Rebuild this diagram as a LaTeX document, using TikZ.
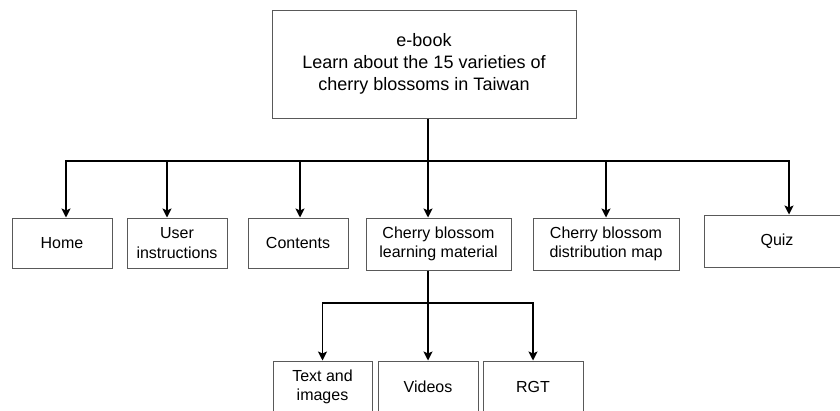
\documentclass[tikz,border=0pt]{standalone}
\usepackage{fontspec}
\setmainfont{Liberation Sans}
\usetikzlibrary{arrows.meta}

\begin{document}
\begin{tikzpicture}[x=1pt,y=-1pt,
	box/.style={draw=black!65, line width=1pt, fill=white, align=center, inner sep=0pt,
		minimum width=100pt, minimum height=50pt, font=\fontsize{16}{19.5}\selectfont},
	link/.style={line width=1.6pt, -{Stealth[length=9pt,width=9pt,inset=2pt]}}]
\useasboundingbox (0,0) rectangle (840,410);
\node[box, minimum width=304pt, minimum height=108pt, font=\fontsize{18}{22}\selectfont] (ebook) at (424,64)
	{e-book\\Learn about the 15 varieties of\\cherry blossoms in Taiwan};
\node[box] (home) at (62,243) {Home};
\node[box] (user) at (177,243) {User\\instructions};
\node[box] (contents) at (298,243) {Contents};
\node[box, minimum width=145pt, minimum height=52pt] (learn) at (438.5,244) {Cherry blossom\\learning material};
\node[box, minimum width=146pt, minimum height=52pt] (map) at (606,244) {Cherry blossom\\distribution map};
\node[box, minimum width=146pt, minimum height=52pt] (quiz) at (777,241) {Quiz};
\node[box, minimum width=99pt, minimum height=52pt] (text) at (322.5,387) {Text and\\images};
\node[box, minimum height=52pt] (videos) at (428,387) {Videos};
\node[box, minimum height=52pt] (rgt) at (533,387) {RGT};
	\coordinate (bus) at (428,161);
	\coordinate (sub) at (428,303);
%first level
\draw[line width=1.6pt] (ebook.south -| bus) -- (bus);
\draw[link] (bus) -| ([xshift=4pt]home.north);
\draw[link] (bus) -| ([xshift=-10pt]user.north);
\draw[link] (bus) -| ([xshift=2pt]contents.north);
\draw[link] (bus) -- (bus |- learn.north);
\draw[link] (bus) -| (map);
\draw[link] (bus) -| ([xshift=12pt]quiz.north);
%second level
\draw[line width=1.6pt] (bus |- learn.south) -- (sub);
\draw[link] (sub) -| (text);
\draw[link] (sub) -- (videos);
\draw[link] (sub) -| (rgt);
\end{tikzpicture}
\end{document}
